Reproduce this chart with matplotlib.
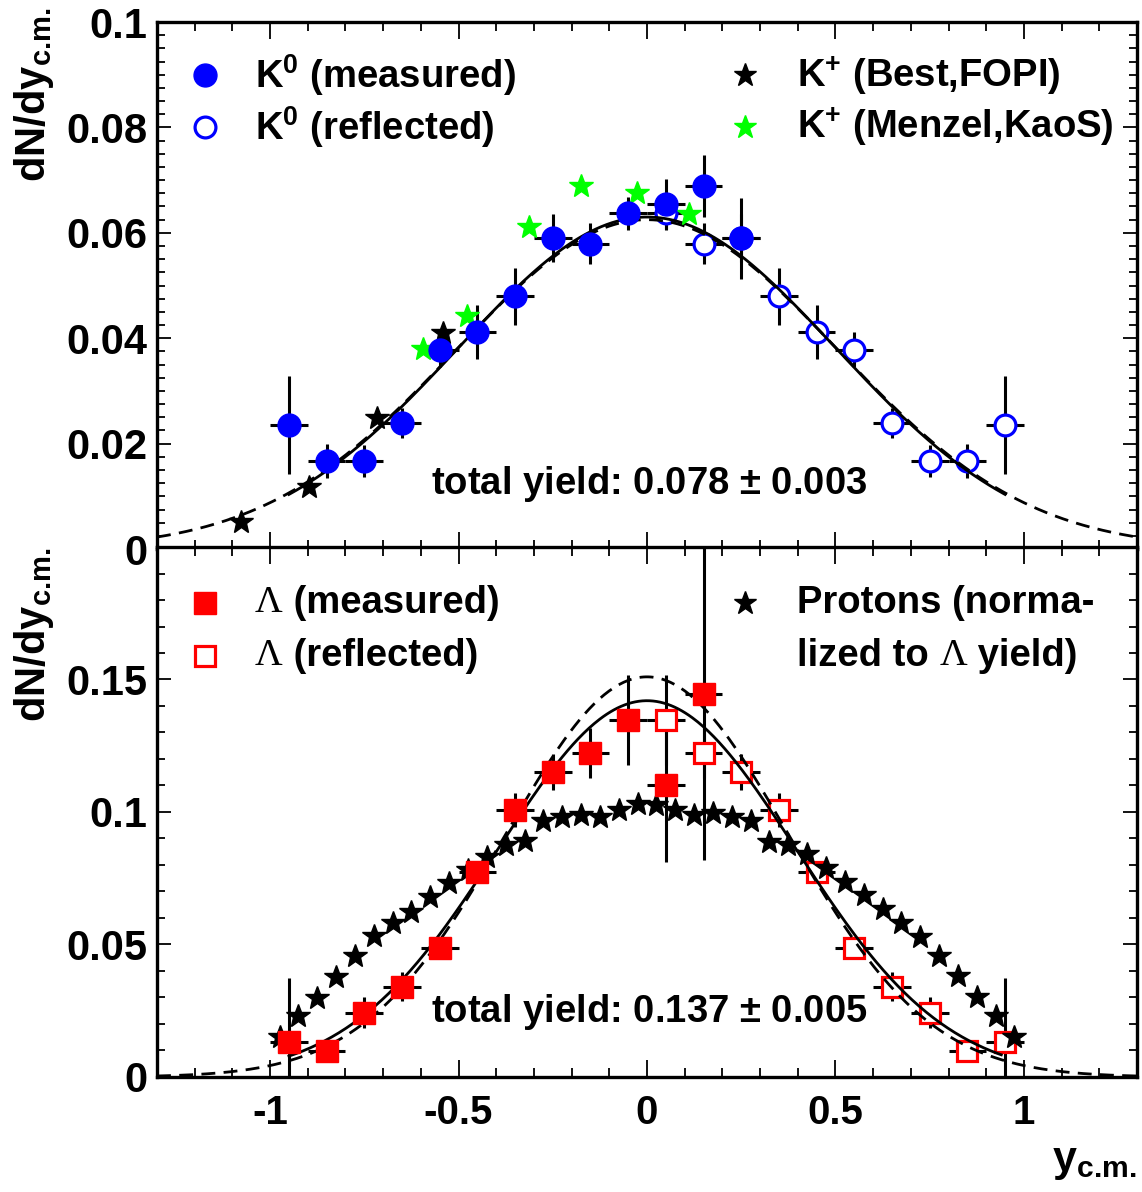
import numpy as np
import matplotlib
matplotlib.use('Agg')
import matplotlib.pyplot as plt
from matplotlib.ticker import MultipleLocator

plt.rcParams['font.family'] = ['Liberation Sans', 'DejaVu Sans']
plt.rcParams['font.weight'] = 'bold'
plt.rcParams['mathtext.fontset'] = 'custom'
plt.rcParams['mathtext.rm'] = 'Liberation Sans:bold'
plt.rcParams['mathtext.bf'] = 'Liberation Sans:bold'
plt.rcParams['mathtext.it'] = 'Liberation Sans:bold'

# ---- top panel: K0 ----
k0_x = [-0.95, -0.85, -0.75, -0.65, -0.55, -0.45, -0.35, -0.25, -0.15, -0.05, 0.05, 0.15, 0.25]
k0_val = [0.0235, 0.0167, 0.0167, 0.0239, 0.0378, 0.0412, 0.048, 0.059, 0.0579, 0.0637, 0.0655, 0.0689, 0.059]
k0_err = [0.0093, 0.0033, 0.0031, 0.0029, 0.0033, 0.0051, 0.0054, 0.0046, 0.0039, 0.0031, 0.0047, 0.0059, 0.0077]

k0r_x = [0.05, 0.15, 0.25, 0.35, 0.45, 0.55, 0.65, 0.75, 0.85, 0.95]
k0r_val = [0.0637, 0.0579, 0.059, 0.048, 0.0412, 0.0378, 0.0239, 0.0167, 0.0167, 0.0235]
k0r_err = [0.0031, 0.0039, 0.0046, 0.0054, 0.0051, 0.0033, 0.0029, 0.0031, 0.0033, 0.0093]

kp_fopi_x = [-1.076, -0.897, -0.717, -0.54]
kp_fopi_val = [0.0051, 0.0118, 0.0249, 0.041]

kp_kaos_x = [-0.594, -0.477, -0.314, -0.176, -0.027, 0.112]
kp_kaos_val = [0.038, 0.0442, 0.0611, 0.0689, 0.0676, 0.0636]

# gaussian fit curves (amplitude, width, range)
k0_fit = (0.063, 0.50, -0.95, 0.95)
k0_fit2 = (0.0625, 0.505, -1.3, 1.3)

# ---- bottom panel: Lambda ----
lam_x = [-0.95, -0.85, -0.75, -0.65, -0.55, -0.45, -0.35, -0.25, -0.15, -0.05, 0.05, 0.15]
lam_val = [0.0132, 0.0098, 0.0242, 0.034, 0.0487, 0.0774, 0.1008, 0.1151, 0.1223, 0.1347, 0.1102, 0.1445]
lam_err = [0.024, 0.003, 0.0058, 0.0055, 0.003, 0.003, 0.0064, 0.0068, 0.0094, 0.017, 0.029, 0.0625]

lamr_x = [0.05, 0.15, 0.25, 0.35, 0.45, 0.55, 0.65, 0.75, 0.85, 0.95]
lamr_val = [0.1347, 0.1223, 0.1151, 0.1008, 0.0774, 0.0487, 0.034, 0.0242, 0.0098, 0.0132]
lamr_err = [0.017, 0.0094, 0.0068, 0.0064, 0.003, 0.003, 0.0055, 0.0058, 0.003, 0.024]

prot_x = [-0.975, -0.925, -0.875, -0.825, -0.775, -0.725, -0.675, -0.625, -0.575, -0.525,
          -0.475, -0.425, -0.375, -0.325, -0.275, -0.225, -0.175, -0.125, -0.075, -0.025,
          0.025, 0.075, 0.125, 0.175, 0.225, 0.275, 0.325, 0.375, 0.425, 0.475,
          0.525, 0.575, 0.625, 0.675, 0.725, 0.775, 0.825, 0.875, 0.925, 0.975]
prot_val = [0.0151, 0.023, 0.0298, 0.0377, 0.0457, 0.0532, 0.058, 0.0623, 0.068, 0.0732,
            0.078, 0.083, 0.0875, 0.089, 0.0966, 0.098, 0.0989, 0.098, 0.1008, 0.103,
            0.1026, 0.1008, 0.0989, 0.0996, 0.098, 0.0966, 0.0887, 0.0875, 0.084, 0.079,
            0.0736, 0.0687, 0.0634, 0.058, 0.053, 0.0457, 0.038, 0.030, 0.023, 0.0151]

lam_fit = (0.142, 0.395, -0.95, 0.94)
lam_fit2 = (0.151, 0.375, -1.3, 1.3)

BLUE = '#0000ff'
RED = '#ff0000'
GREEN = '#00ff00'
FS = 27.5


def gauss_curve(ax, pars, ls):
    amp, sig, lo, hi = pars
    xs = np.linspace(lo, hi, 400)
    ax.plot(xs, amp * np.exp(-xs ** 2 / (2 * sig ** 2)), color='k', lw=2.0, ls=ls, zorder=4)


def points(ax, x, y, err, marker, color, filled):
    ax.errorbar(x, y, xerr=0.05, yerr=err, fmt='none', ecolor='k', elinewidth=2.2, capsize=0, zorder=2)
    if filled:
        ax.plot(x, y, ls='none', marker=marker, ms=16.5, mfc=color, mec=color, zorder=6)
    else:
        ax.plot(x, y, ls='none', marker=marker, ms=15, mfc='white', mec=color, mew=2.3, zorder=3)


def style(ax, ymajor, yminor):
    ax.set_xlim(-1.3, 1.3)
    ax.xaxis.set_major_locator(MultipleLocator(0.5))
    ax.xaxis.set_minor_locator(MultipleLocator(0.1))
    ax.yaxis.set_major_locator(MultipleLocator(ymajor))
    ax.yaxis.set_minor_locator(MultipleLocator(yminor))
    ax.tick_params(which='both', direction='in', top=True, right=True, width=1.3)
    ax.tick_params(axis='x', which='major', length=12, labelsize=29)
    ax.tick_params(axis='x', which='minor', length=6.5)
    ax.tick_params(axis='y', which='major', length=10, labelsize=30, pad=7)
    ax.tick_params(axis='y', which='minor', length=5.5)
    for s in ax.spines.values():
        s.set_linewidth(2.4)


def chain(fig, ax, x, y, parts):
    r = fig.canvas.get_renderer()
    for s, kw in parts:
        t = ax.text(x, y, s, transform=ax.transAxes, va='center', ha='left', fontsize=FS, **kw)
        bb = t.get_window_extent(r)
        x = ax.transAxes.inverted().transform((bb.x1, bb.y0))[0]


fig = plt.figure(figsize=(11.42, 11.92), dpi=100)
ax1 = fig.add_axes([0.1375, 0.5394, 0.8581, 0.4421])
ax2 = fig.add_axes([0.1375, 0.0965, 0.8581, 0.4446])

# top panel
gauss_curve(ax1, k0_fit2, (0, (5, 3)))
gauss_curve(ax1, k0_fit, '-')
points(ax1, k0r_x, k0r_val, k0r_err, 'o', BLUE, False)
ax1.plot(kp_fopi_x, kp_fopi_val, ls='none', marker='*', ms=18, color='k', zorder=5)
ax1.plot(kp_kaos_x, kp_kaos_val, ls='none', marker='*', ms=18, color=GREEN, zorder=5)
points(ax1, k0_x, k0_val, k0_err, 'o', BLUE, True)
ax1.set_ylim(0, 0.1)
style(ax1, 0.02, 0.0025)
ax1.set_yticks([0, 0.02, 0.04, 0.06, 0.08, 0.1])
ax1.set_yticklabels(['0', '0.02', '0.04', '0.06', '0.08', '0.1'])
ax1.tick_params(axis='x', labelbottom=False)
ax1.text(0.005, 0.0123, 'total yield: 0.078 $\\pm$ 0.003', ha='center', va='center', fontsize=27.5)

# bottom panel
gauss_curve(ax2, lam_fit2, (0, (5, 3)))
gauss_curve(ax2, lam_fit, '-')
ax2.plot(prot_x, prot_val, ls='none', marker='*', ms=18, color='k', zorder=5)
points(ax2, lamr_x, lamr_val, lamr_err, 's', RED, False)
points(ax2, lam_x, lam_val, lam_err, 's', RED, True)
ax2.set_ylim(0, 0.2)
style(ax2, 0.05, 0.01)
ax2.set_yticks([0, 0.05, 0.1, 0.15, 0.2])
ax2.set_yticklabels(['0', '0.05', '0.1', '0.15', ''])
ax2.set_xticks([-1, -0.5, 0, 0.5, 1])
ax2.set_xticklabels(['-1', '-0.5', '0', '0.5', '1'])
ax2.tick_params(axis='x', pad=12)
ax2.text(0.005, 0.0245, 'total yield: 0.137 $\\pm$ 0.005', ha='center', va='center', fontsize=27.5)

# legends (drawn by hand, ROOT style)
ax1.plot([0.049], [0.899], 'o', ms=16.5, color=BLUE, transform=ax1.transAxes)
ax1.plot([0.049], [0.801], 'o', ms=15, mfc='white', mec=BLUE, mew=2.3, transform=ax1.transAxes)
ax1.text(0.1, 0.899, 'K$^{0}$ (measured)', transform=ax1.transAxes, va='center', fontsize=FS)
ax1.text(0.1, 0.801, 'K$^{0}$ (reflected)', transform=ax1.transAxes, va='center', fontsize=FS)
ax1.plot([0.600], [0.899], '*', ms=17, color='k', transform=ax1.transAxes)
ax1.plot([0.600], [0.801], '*', ms=17, color=GREEN, transform=ax1.transAxes)
ax1.text(0.653, 0.899, 'K$^{+}$ (Best,FOPI)', transform=ax1.transAxes, va='center', fontsize=FS)
ax1.text(0.653, 0.801, 'K$^{+}$ (Menzel,KaoS)', transform=ax1.transAxes, va='center', fontsize=FS)

ax2.plot([0.049], [0.894], 's', ms=16.5, color=RED, transform=ax2.transAxes)
ax2.plot([0.049], [0.794], 's', ms=15, mfc='white', mec=RED, mew=2.3, transform=ax2.transAxes)
ax2.plot([0.600], [0.894], '*', ms=17, color='k', transform=ax2.transAxes)
lam = dict(family=['Liberation Serif', 'DejaVu Serif'], fontweight='normal')
chain(fig, ax2, 0.1, 0.894, [('\u039b', lam), (' (measured)', {})])
chain(fig, ax2, 0.1, 0.794, [('\u039b', lam), (' (reflected)', {})])
ax2.text(0.653, 0.894, 'Protons (norma-', transform=ax2.transAxes, va='center', fontsize=FS)
chain(fig, ax2, 0.653, 0.794, [('lized to ', {}), ('\u039b', lam), (' yield)', {})])

# axis titles
ylab = 'dN/dy$_{\\text{c.m.}}$'
fig.text(34 / 1142, 1 - 8 / 1192, ylab, rotation=90, ha='center', va='top', fontsize=30)
fig.text(34 / 1142, 1 - 548 / 1192, ylab, rotation=90, ha='center', va='top', fontsize=30)
fig.text(1137 / 1142, 1 - 1162 / 1192, 'y$_{\\text{c.m.}}$', ha='right', va='center', fontsize=31)

fig.savefig('out.png', dpi=100)
